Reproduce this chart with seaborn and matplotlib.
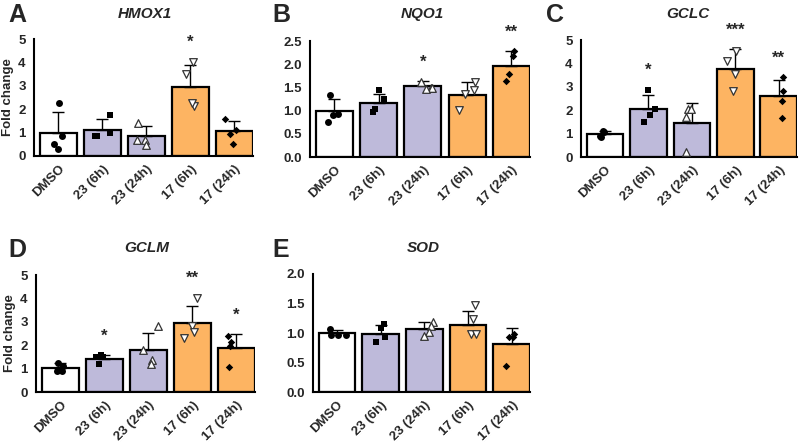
import numpy as np
import pandas as pd
import matplotlib
matplotlib.use("Agg")
import matplotlib.pyplot as plt
import seaborn as sns

sns.set_style("white")
plt.rcParams['font.family'] = ['Liberation Sans', 'DejaVu Sans']
plt.rcParams['font.weight'] = 'bold'

categories = ["DMSO", "23 (6h)", "23 (24h)", "17 (6h)", "17 (24h)"]
bar_colors = ["#FFFFFF", "#BEBADA", "#BEBADA", "#FDB462", "#FDB462"]
markers = ["o", "s", "^", "v", "D"]
marker_filled = [True, True, False, False, True]

# HMOX1
hmox1_mean = [1.0, 1.1, 0.85, 2.97, 1.06]
hmox1_sd = [0.86, 0.48, 0.42, 0.90, 0.42]
hmox1_pts = [[2.28, 0.85, 0.53, 0.32], [1.75, 0.99, 0.85, 0.85],
             [1.43, 0.70, 0.67, 0.46], [4.03, 3.51, 2.13, 2.25],
             [1.60, 1.10, 0.96, 0.53]]
hmox1_sig = ["", "", "", "*", ""]

# NQO1
nqo1_mean = [1.0, 1.17, 1.54, 1.34, 1.96]
nqo1_sd = [0.25, 0.19, 0.09, 0.28, 0.32]
nqo1_pts = [[1.34, 0.92, 0.90, 0.75], [1.44, 1.24, 1.03, 0.96],
            [1.62, 1.49, 1.49, 1.47], [1.62, 1.45, 1.36, 1.02],
            [2.28, 2.18, 1.78, 1.64]]
nqo1_sig = ["", "", "*", "", "**"]

# GCLC
gclc_mean = [1.0, 2.05, 1.47, 3.74, 2.59]
gclc_sd = [0.12, 0.58, 0.84, 0.86, 0.71]
gclc_pts = [[1.12, 1.06, 0.89, 0.86], [2.87, 2.05, 1.80, 1.48],
            [2.04, 2.04, 1.72, 0.22], [4.55, 4.12, 3.56, 2.84],
            [3.42, 2.84, 2.41, 1.65]]
gclc_sig = ["", "*", "", "***", "**"]

# GCLM
gclm_mean = [1.04, 1.41, 1.81, 2.93, 1.89]
gclm_sd = [0.20, 0.15, 0.73, 0.74, 0.57]
gclm_pts = [[1.24, 1.10, 0.90, 0.90], [1.56, 1.51, 1.50, 1.21],
            [2.83, 1.79, 1.36, 1.21], [4.03, 2.81, 2.57, 2.29],
            [2.39, 2.14, 1.97, 1.07]]
gclm_sig = ["", "*", "", "**", "*"]

# SOD
sod_mean = [1.0, 0.99, 1.07, 1.13, 0.82]
sod_sd = [0.05, 0.15, 0.12, 0.25, 0.26]
sod_pts = [[1.07, 0.96, 0.96, 0.96], [1.16, 1.08, 0.93, 0.84],
           [1.19, 1.12, 1.02, 0.95], [1.47, 1.24, 0.99, 0.99],
           [0.99, 0.93, 0.93, 0.44]]
sod_sig = ["", "", "", "", ""]

panels = [
    ("A", "HMOX1", hmox1_mean, hmox1_sd, hmox1_pts, hmox1_sig, (0, 5), [0, 1, 2, 3, 4, 5], "{:.0f}", True,
     [34, 39, 253, 156], (8, 22), (145, 14)),
    ("B", "NQO1", nqo1_mean, nqo1_sd, nqo1_pts, nqo1_sig, (0, 2.5), [0, 0.5, 1.0, 1.5, 2.0, 2.5], "{:.1f}", False,
     [310, 41, 530, 157], (272, 22), (422, 14)),
    ("C", "GCLC", gclc_mean, gclc_sd, gclc_pts, gclc_sig, (0, 5), [0, 1, 2, 3, 4, 5], "{:.0f}", False,
     [581, 40, 797, 157], (546, 22), (688, 14)),
    ("D", "GCLM", gclm_mean, gclm_sd, gclm_pts, gclm_sig, (0, 5), [0, 1, 2, 3, 4, 5], "{:.0f}", True,
     [36, 275, 255, 392], (8, 257), (147, 248)),
    ("E", "SOD", sod_mean, sod_sd, sod_pts, sod_sig, (0, 2.0), [0, 0.5, 1.0, 1.5, 2.0], "{:.1f}", False,
     [313, 274, 530, 392], (272, 257), (423, 248)),
]

W, H = 800, 444
fig = plt.figure(figsize=(W / 100, H / 100), dpi=100)
np.random.seed(3)

for letter, gene, means, sds, pts, sig, ylim, yticks, fmt, ylab, box, lpos, tpos in panels:
    x0, y0, x1, y1 = box
    ax = fig.add_axes([x0 / W, 1 - y1 / H, (x1 - x0) / W, (y1 - y0) / H])
    df = pd.DataFrame({"cond": categories, "val": means})
    sns.barplot(data=df, x="cond", y="val", hue="cond", order=categories,
                palette=bar_colors, saturation=1, edgecolor="black", linewidth=1.6,
                width=0.84, legend=False, ax=ax, zorder=2)
    ax.errorbar(np.arange(len(categories)), means,
                yerr=[np.zeros(len(sds)), sds], fmt="none",
                ecolor="black", elinewidth=1.0, capsize=4, capthick=1.0, zorder=3)
    for i, c in enumerate(categories):
        sub = pd.DataFrame({"cond": [c] * len(pts[i]), "val": pts[i]})
        if marker_filled[i]:
            kw = dict(color="black", edgecolor="black", linewidth=0)
            size = 5 if markers[i] != "D" else 3.8
        else:
            kw = dict(color="white", edgecolor="#333333", linewidth=0.9)
            size = 5.5
        sns.stripplot(data=sub, x="cond", y="val", order=categories,
                      marker=markers[i], size=size, jitter=0.22, ax=ax,
                      zorder=4, **kw)
    for i, s in enumerate(sig):
        if s:
            top = max(max(pts[i]), means[i] + sds[i])
            ax.text(i, top + (ylim[1] - ylim[0]) * 0.10, s, ha="center", va="bottom",
                    fontsize=12, fontweight="bold", clip_on=False)
    ax.set_ylim(*ylim)
    ax.set_xlim(-0.55, 4.42)
    ax.set_yticks(yticks)
    ax.set_yticklabels([fmt.format(t) for t in yticks], fontsize=9.5, fontweight="bold")
    ax.set_xticks(range(len(categories)))
    ax.set_xticklabels(categories, rotation=45, ha="right", rotation_mode="anchor",
                       fontsize=9.5, fontweight="bold")
    ax.tick_params(axis="both", direction="out", length=4, width=1.3, color="black", pad=2)
    ax.tick_params(axis="x", length=3)
    ax.set_xlabel("")
    ax.set_ylabel("Fold change" if ylab else "", fontsize=9.5, fontweight="bold", labelpad=3)
    for sp in ["top", "right"]:
        ax.spines[sp].set_visible(False)
    for sp in ["left", "bottom"]:
        ax.spines[sp].set_linewidth(1.5)
        ax.spines[sp].set_color("black")
    fig.text(lpos[0] / W, 1 - lpos[1] / H, letter, fontsize=18, fontweight="bold",
             ha="left", va="baseline")
    fig.text(tpos[0] / W, 1 - tpos[1] / H, gene, fontsize=11, fontweight="bold",
             style="italic", ha="center", va="center")

fig.savefig("out.png", dpi=100, facecolor="white")
